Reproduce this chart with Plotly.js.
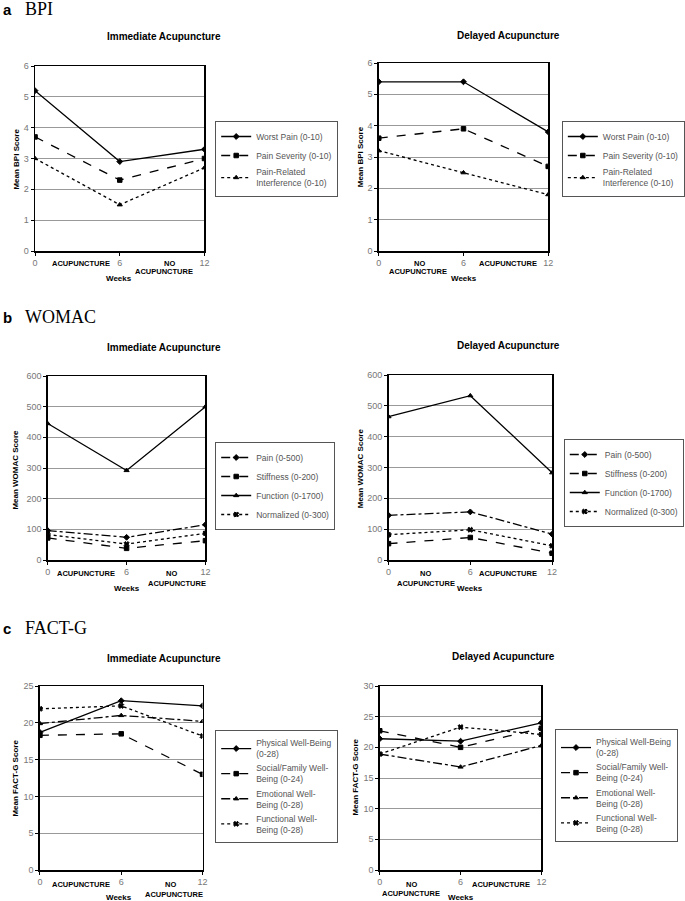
<!DOCTYPE html>
<html><head><meta charset="utf-8">
<script src="https://cdn.plot.ly/plotly-3.0.1.min.js"></script>
<style>html,body{margin:0;padding:0;background:#fff}#chart{width:685px;height:901px}</style>
</head><body><div id="chart"></div>
<script>
// ---- data ----
const weeks = [0, 6, 12];
const weekTicks = ['0', '6', '12'];

const bpiImmWorst = [5.2, 2.9, 3.3];
const bpiImmSeverity = [3.7, 2.3, 3.0];
const bpiImmInterf = [3.0, 1.5, 2.7];
const bpiDelWorst = [5.4, 5.4, 3.8];
const bpiDelSeverity = [3.6, 3.9, 2.7];
const bpiDelInterf = [3.2, 2.5, 1.8];
const bpiNames = ['Worst Pain (0-10)', 'Pain Severity (0-10)', 'Pain-Related<br>Interference (0-10)'];

const womacImmPain = [96, 74, 115];
const womacImmStiff = [72, 38, 63];
const womacImmFunc = [445, 292, 500];
const womacImmNorm = [83, 52, 87];
const womacDelPain = [145, 156, 84];
const womacDelStiff = [53, 73, 22];
const womacDelFunc = [465, 533, 283];
const womacDelNorm = [82, 98, 46];
const womacNames = ['Pain (0-500)', 'Stiffness (0-200)', 'Function (0-1700)', 'Normalized (0-300)'];

const factImmPhys = [18.7, 23.0, 22.3];
const factImmSocial = [18.3, 18.5, 13.0];
const factImmEmot = [19.9, 21.0, 20.2];
const factImmFunc = [21.9, 22.3, 18.2];
const factDelPhys = [21.4, 21.0, 24.0];
const factDelSocial = [22.7, 20.0, 23.1];
const factDelEmot = [18.9, 16.8, 20.3];
const factDelFunc = [18.9, 23.3, 22.1];
const factNames = ['Physical Well-Being<br>(0-28)', 'Social/Family Well-<br>Being (0-24)', 'Emotional Well-<br>Being (0-28)', 'Functional Well-<br>Being (0-28)'];

// ---- layout helpers ----
const W = 685, H = 901;
const px = x => x / W;
const py = y => 1 - y / H;
const FONT = 'Arial, "Liberation Sans", sans-serif';

function tr(y, name, dash, symbol, ax, leg) {
  return {
    x: weeks, y: y, name: name, type: 'scatter', mode: 'lines+markers',
    xaxis: 'x' + ax, yaxis: 'y' + ax, legend: leg,
    line: {color: '#000', width: 1.3, dash: dash},
    marker: {color: '#000', symbol: symbol, size: 4.5, line: {color: '#000', width: 1}}
  };
}

const data = [
  tr(bpiImmWorst, bpiNames[0], 'solid', 'diamond', '', 'legend'),
  tr(bpiImmSeverity, bpiNames[1], 'dash', 'square', '', 'legend'),
  tr(bpiImmInterf, bpiNames[2], 'dot', 'triangle-up', '', 'legend'),
  tr(bpiDelWorst, bpiNames[0], 'solid', 'diamond', '2', 'legend2'),
  tr(bpiDelSeverity, bpiNames[1], 'dash', 'square', '2', 'legend2'),
  tr(bpiDelInterf, bpiNames[2], 'dot', 'triangle-up', '2', 'legend2'),
  tr(womacImmPain, womacNames[0], 'dashdot', 'diamond', '3', 'legend3'),
  tr(womacImmStiff, womacNames[1], 'dash', 'square', '3', 'legend3'),
  tr(womacImmFunc, womacNames[2], 'solid', 'triangle-up', '3', 'legend3'),
  tr(womacImmNorm, womacNames[3], 'dot', 'x', '3', 'legend3'),
  tr(womacDelPain, womacNames[0], 'dashdot', 'diamond', '4', 'legend4'),
  tr(womacDelStiff, womacNames[1], 'dash', 'square', '4', 'legend4'),
  tr(womacDelFunc, womacNames[2], 'solid', 'triangle-up', '4', 'legend4'),
  tr(womacDelNorm, womacNames[3], 'dot', 'x', '4', 'legend4'),
  tr(factImmPhys, factNames[0], 'solid', 'diamond', '5', 'legend5'),
  tr(factImmSocial, factNames[1], 'dash', 'square', '5', 'legend5'),
  tr(factImmEmot, factNames[2], 'dashdot', 'triangle-up', '5', 'legend5'),
  tr(factImmFunc, factNames[3], 'dot', 'x', '5', 'legend5'),
  tr(factDelPhys, factNames[0], 'solid', 'diamond', '6', 'legend6'),
  tr(factDelSocial, factNames[1], 'dash', 'square', '6', 'legend6'),
  tr(factDelEmot, factNames[2], 'dashdot', 'triangle-up', '6', 'legend6'),
  tr(factDelFunc, factNames[3], 'dot', 'x', '6', 'legend6')
];

// pixel boxes [left, right, top, bottom]
const boxes = [
  [36, 210, 66, 251], [389, 563, 63, 251],
  [49, 211, 376, 560], [399, 567, 375, 560],
  [41, 208, 686, 870], [390, 556, 686, 870]
];
const yRanges = [[0, 6], [0, 6], [0, 600], [0, 600], [0, 25], [0, 30]];
const yDticks = [1, 1, 100, 100, 5, 5];

const layout = {
  width: W, height: H, margin: {l: 0, r: 0, t: 0, b: 0},
  paper_bgcolor: '#fff', plot_bgcolor: '#fff',
  font: {family: FONT, size: 9, color: '#666'},
  annotations: [], showlegend: true
};

boxes.forEach((b, i) => {
  const s = i === 0 ? '' : String(i + 1);
  layout['xaxis' + s] = {
    domain: [px(b[0]), px(b[1])], anchor: 'y' + s, range: [0, 12],
    tickmode: 'array', tickvals: weeks, ticktext: weekTicks,
    showgrid: false, zeroline: false, showline: true, mirror: true,
    linecolor: '#000', linewidth: 1.5, ticks: 'outside', ticklen: 3, tickcolor: '#000',
    tickfont: {size: 9, color: '#777'}
  };
  layout['yaxis' + s] = {
    domain: [py(b[3]), py(b[2])], anchor: 'x' + s, range: yRanges[i], dtick: yDticks[i],
    showgrid: true, gridcolor: '#999', gridwidth: 1, zeroline: false,
    showline: true, mirror: true, linecolor: '#000', linewidth: 1.5,
    ticks: 'outside', ticklen: 3, tickcolor: '#000',
    tickfont: {size: 9, color: '#777'}
  };
});

// legends
const legPos = [[221, 121], [577, 121], [221, 442], [579, 439], [221, 730], [570, 729]];
legPos.forEach((p, i) => {
  const key = i === 0 ? 'legend' : 'legend' + (i + 1);
  layout[key] = {
    x: px(p[0]), y: py(p[1]), xanchor: 'left', yanchor: 'top',
    bgcolor: '#fff', bordercolor: '#555', borderwidth: 1,
    font: {family: FONT, size: 8.5, color: '#555'},
    itemwidth: 30
  };
});

function ann(text, x, y, size, opts) {
  layout.annotations.push(Object.assign({
    text: text, x: px(x), y: py(y), xref: 'paper', yref: 'paper',
    xanchor: 'center', yanchor: 'middle', showarrow: false,
    font: {family: FONT, size: size, color: '#000'}
  }, opts || {}));
}

const SERIF = '"Liberation Serif", "Times New Roman", serif';
// panel labels
ann('<b>a</b>', 1, 9, 15, {xanchor: 'left'});
ann('BPI', 24, 9, 18, {xanchor: 'left', font: {family: SERIF, size: 18, color: '#000'}});
ann('<b>b</b>', 1, 317, 15, {xanchor: 'left'});
ann('WOMAC', 24, 317, 18, {xanchor: 'left', font: {family: SERIF, size: 18, color: '#000'}});
ann('<b>c</b>', 1, 628, 15, {xanchor: 'left'});
ann('FACT-G', 24, 628, 18, {xanchor: 'left', font: {family: SERIF, size: 18, color: '#000'}});

// subplot titles
[['Immediate Acupuncture', 168, 36], ['Delayed Acupuncture', 522, 35],
 ['Immediate Acupuncture', 168, 347], ['Delayed Acupuncture', 522, 345],
 ['Immediate Acupuncture', 168, 658], ['Delayed Acupuncture', 517, 656]]
  .forEach(t => ann('<b>' + t[0] + '</b>', t[1], t[2], 10));

// y titles
[['Mean BPI Score', 16, 159], ['Mean BPI Score', 370, 157],
 ['Mean WOMAC Score', 15, 470], ['Mean WOMAC Score', 370, 468],
 ['Mean FACT-G Score', 15, 778], ['Mean FACT-G Score', 365, 777]]
  .forEach(t => ann('<b>' + t[0] + '</b>', t[1], t[2], 8, {textangle: -90}));

// x-axis phase labels
const phase = [
  ['ACUPUNCTURE', 83, 263], ['NO', 174, 263], ['ACUPUNCTURE', 168, 272], ['Weeks', 122, 278],
  ['NO', 431, 263], ['ACUPUNCTURE', 429, 272], ['ACUPUNCTURE', 522, 263], ['Weeks', 477, 278],
  ['ACUPUNCTURE', 88, 573], ['NO', 176, 573], ['ACUPUNCTURE', 182, 583], ['Weeks', 130, 588],
  ['NO', 437, 573], ['ACUPUNCTURE', 438, 583], ['ACUPUNCTURE', 522, 573], ['Weeks', 483, 588],
  ['ACUPUNCTURE', 83, 884], ['NO', 175, 884], ['ACUPUNCTURE', 179, 894], ['Weeks', 122, 897],
  ['NO', 423, 884], ['ACUPUNCTURE', 422, 893], ['ACUPUNCTURE', 515, 884], ['Weeks', 473, 897]
];
phase.forEach(t => ann('<b>' + t[0] + '</b>', t[1], t[2], t[0] === 'Weeks' ? 8 : 7.5));

Plotly.newPlot('chart', data, layout, {displayModeBar: false, staticPlot: true});
</script></body></html>
